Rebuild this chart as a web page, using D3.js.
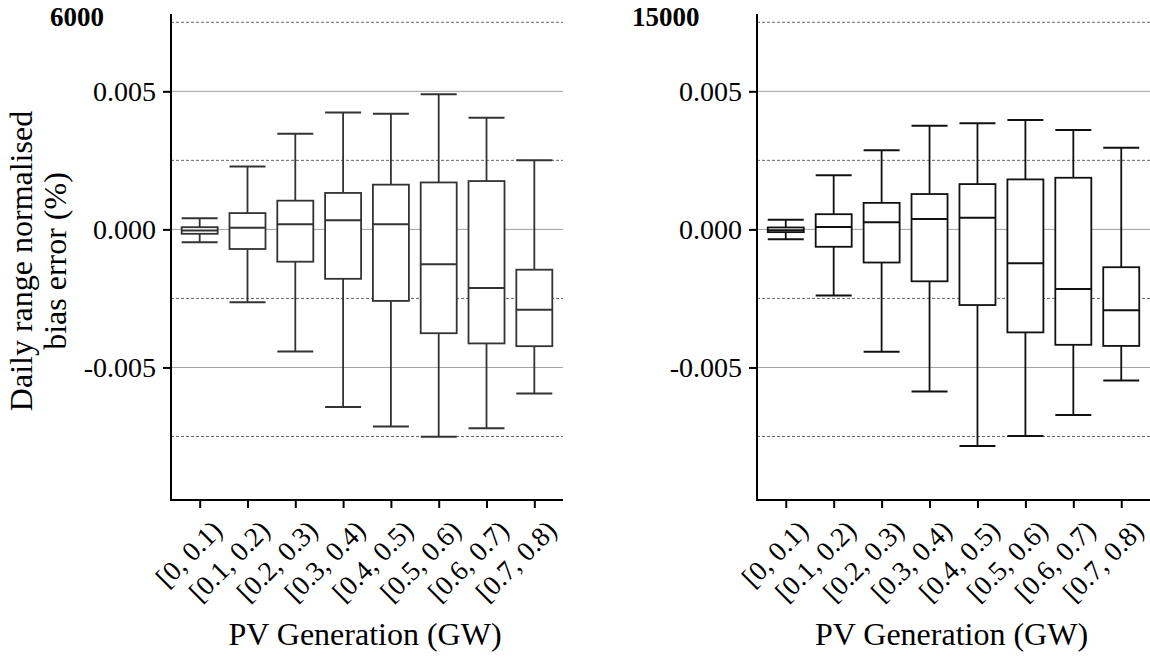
<!DOCTYPE html>
<html>
<head>
<meta charset="utf-8">
<script src="https://cdn.jsdelivr.net/npm/d3@7"></script>
<style>
  html, body { margin: 0; padding: 0; background: #fff; }
  svg text { font-family: "Liberation Serif", "Times New Roman", serif; fill: #000; }
</style>
</head>
<body>
<svg id="chart" width="1150" height="657"></svg>
<script>
// ---- data ----
const categories = ["[0, 0.1)", "[0.1, 0.2)", "[0.2, 0.3)", "[0.3, 0.4)", "[0.4, 0.5)", "[0.5, 0.6)", "[0.6, 0.7)", "[0.7, 0.8)"];
const panelTitles = ["6000", "15000"];
const yTickValues = [-0.005, 0, 0.005];
const yTickLabels = ["-0.005", "0.000", "0.005"];
const yMinorValues = [-0.0075, -0.0025, 0.0025, 0.0075];

const lowA  = [-0.00047, -0.00264, -0.00442, -0.00643, -0.00714, -0.00751, -0.00720, -0.00594];
const q1A   = [-0.00016, -0.00071, -0.00117, -0.00179, -0.00259, -0.00376, -0.00413, -0.00423];
const medA  = [-0.00004,  0.00006,  0.00019,  0.00033,  0.00019, -0.00126, -0.00212, -0.00291];
const q3A   = [ 0.00008,  0.00059,  0.00104,  0.00132,  0.00162,  0.00170,  0.00175, -0.00146];
const highA = [ 0.00040,  0.00228,  0.00346,  0.00423,  0.00419,  0.00489,  0.00404,  0.00250];

const lowB  = [-0.00036, -0.00239, -0.00443, -0.00587, -0.00784, -0.00748, -0.00672, -0.00547];
const q1B   = [-0.00010, -0.00063, -0.00120, -0.00188, -0.00274, -0.00373, -0.00418, -0.00422];
const medB  = [-0.00003,  0.00009,  0.00026,  0.00038,  0.00042, -0.00123, -0.00216, -0.00293];
const q3B   = [ 0.00007,  0.00055,  0.00096,  0.00128,  0.00164,  0.00181,  0.00187, -0.00137];
const highB = [ 0.00035,  0.00196,  0.00287,  0.00375,  0.00384,  0.00396,  0.00360,  0.00296];

const yDomain = [-0.0098, 0.0078];

// ---- drawing ----
(function () {
const svg = d3.select("#chart");
const plotTop = 14, plotBottom = 500;

const panels = [
  { title: panelTitles[0], titleX: 50, x0: 171, x1: 563, low: lowA, q1: q1A, med: medA, q3: q3A, high: highA, stroke: "#333" },
  { title: panelTitles[1], titleX: 632, x0: 757, x1: 1150, low: lowB, q1: q1B, med: medB, q3: q3B, high: highB, stroke: "#111" }
];

const y = d3.scaleLinear().domain(yDomain).range([plotBottom, plotTop]);

panels.forEach(p => {
  const x = d3.scalePoint().domain(categories).range([p.x0, p.x1]).padding(0.6);
  const g = svg.append("g");
  const boxW = 36;

  // gridlines
  g.selectAll(".major").data(yTickValues).enter().append("line")
    .attr("x1", p.x0).attr("x2", p.x1)
    .attr("y1", d => y(d)).attr("y2", d => y(d))
    .attr("stroke", "#a0a0a0").attr("stroke-width", 1);
  g.selectAll(".minor").data(yMinorValues).enter().append("line")
    .attr("x1", p.x0).attr("x2", p.x1)
    .attr("y1", d => y(d)).attr("y2", d => y(d))
    .attr("stroke", "#666").attr("stroke-width", 1).attr("stroke-dasharray", "3,2");

  // boxes
  const data = categories.map((c, i) => ({ c, low: p.low[i], q1: p.q1[i], med: p.med[i], q3: p.q3[i], high: p.high[i] }));
  const bx = g.selectAll(".box").data(data).enter().append("g");
  bx.append("line").attr("x1", d => x(d.c)).attr("x2", d => x(d.c))
    .attr("y1", d => y(d.high)).attr("y2", d => y(d.q3))
    .attr("stroke", p.stroke).attr("stroke-width", 1.8);
  bx.append("line").attr("x1", d => x(d.c)).attr("x2", d => x(d.c))
    .attr("y1", d => y(d.q1)).attr("y2", d => y(d.low))
    .attr("stroke", p.stroke).attr("stroke-width", 1.8);
  bx.append("line").attr("x1", d => x(d.c) - boxW / 2).attr("x2", d => x(d.c) + boxW / 2)
    .attr("y1", d => y(d.high)).attr("y2", d => y(d.high))
    .attr("stroke", p.stroke).attr("stroke-width", 2);
  bx.append("line").attr("x1", d => x(d.c) - boxW / 2).attr("x2", d => x(d.c) + boxW / 2)
    .attr("y1", d => y(d.low)).attr("y2", d => y(d.low))
    .attr("stroke", p.stroke).attr("stroke-width", 2);
  bx.append("rect").attr("x", d => x(d.c) - boxW / 2).attr("width", boxW)
    .attr("y", d => y(d.q3)).attr("height", d => y(d.q1) - y(d.q3))
    .attr("fill", "#fff").attr("stroke", p.stroke).attr("stroke-width", 1.8);
  bx.append("line").attr("x1", d => x(d.c) - boxW / 2).attr("x2", d => x(d.c) + boxW / 2)
    .attr("y1", d => y(d.med)).attr("y2", d => y(d.med))
    .attr("stroke", p.stroke).attr("stroke-width", 2);

  // y axis
  const yAxis = d3.axisLeft(y).tickValues(yTickValues)
    .tickFormat((d, i) => yTickLabels[i]).tickSize(8).tickPadding(7);
  const ya = g.append("g").attr("transform", `translate(${p.x0},0)`).call(yAxis);
  ya.select(".domain").remove();
  ya.selectAll(".tick line").attr("stroke", "#000").attr("stroke-width", 2);
  ya.selectAll(".tick text").attr("font-size", 28).attr("font-family", "Liberation Serif").attr("fill", "#000");
  g.append("line").attr("x1", p.x0).attr("x2", p.x0).attr("y1", plotTop).attr("y2", plotBottom + 1)
    .attr("stroke", "#000").attr("stroke-width", 2);

  // x axis
  const xAxis = d3.axisBottom(x).tickSize(8).tickFormat("");
  const xa = g.append("g").attr("transform", `translate(0,${plotBottom})`).call(xAxis);
  xa.select(".domain").remove();
  xa.selectAll(".tick line").attr("stroke", "#000").attr("stroke-width", 2);
  g.append("line").attr("x1", p.x0 - 1).attr("x2", p.x1).attr("y1", plotBottom).attr("y2", plotBottom)
    .attr("stroke", "#000").attr("stroke-width", 2);

  g.selectAll(".xl").data(categories).enter().append("text")
    .attr("transform", d => `translate(${x(d) + 10},518) rotate(-45)`)
    .attr("dy", "0.72em")
    .attr("text-anchor", "end")
    .attr("font-size", 27.5)
    .text(d => d);

  g.append("text").attr("x", (p.x0 + p.x1) / 2 - 2).attr("y", 645)
    .attr("text-anchor", "middle").attr("font-size", 32).text("PV Generation (GW)");

  g.append("text").attr("x", p.titleX).attr("y", 26)
    .attr("font-size", 27).attr("font-weight", "bold").text(p.title);
});

const yt = svg.append("text").attr("transform", "translate(0,261) rotate(-90)")
  .attr("text-anchor", "middle").attr("font-size", 32);
yt.append("tspan").attr("x", 0).attr("y", 32).text("Daily range normalised");
yt.append("tspan").attr("x", 0).attr("y", 66).text("bias error (%)");
})();
</script>
</body>
</html>
